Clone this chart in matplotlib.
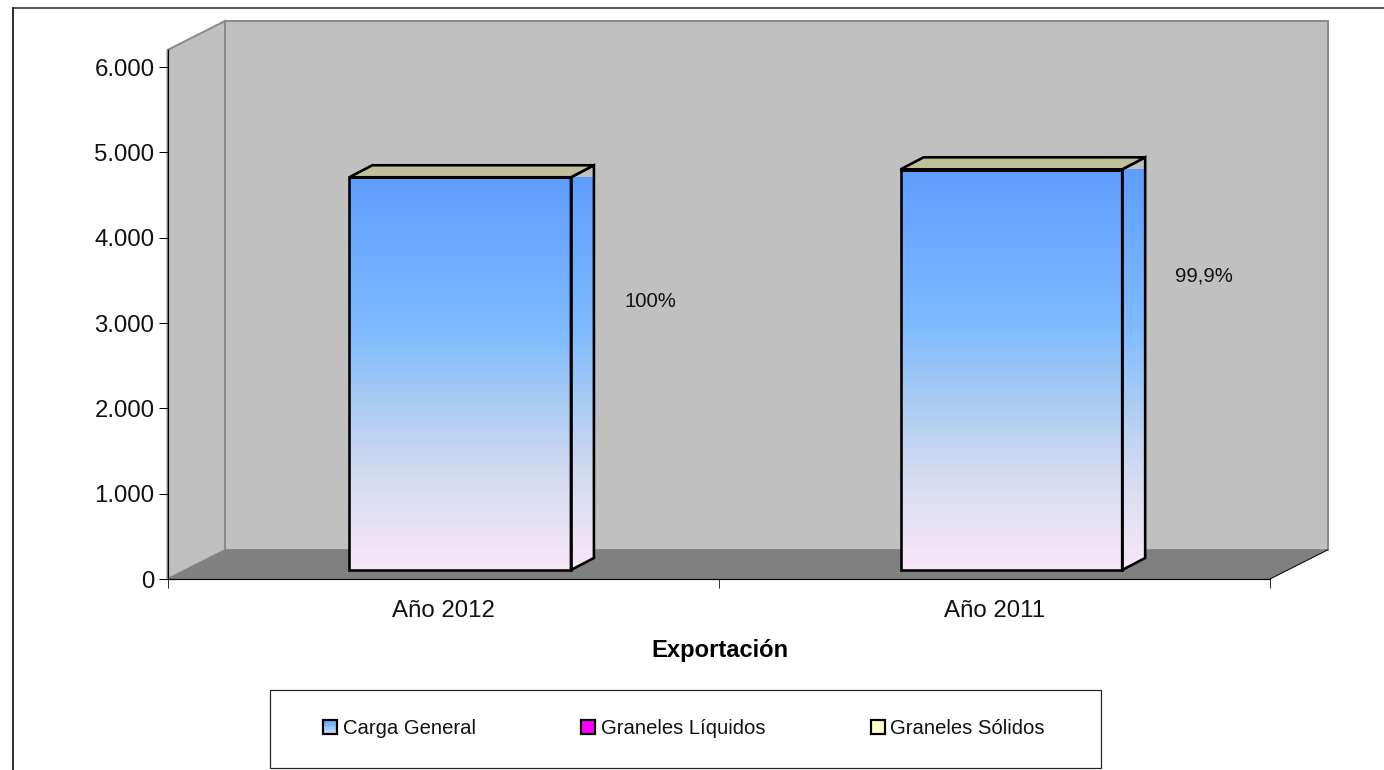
import matplotlib
matplotlib.use("Agg")
import matplotlib.pyplot as plt
import numpy as np
from matplotlib.colors import LinearSegmentedColormap
from matplotlib.lines import Line2D
from matplotlib.patches import Polygon, Rectangle, Patch
from matplotlib.transforms import Affine2D, IdentityTransform
from matplotlib.legend_handler import HandlerBase

categories = ["Año 2012", "Año 2011"]
carga_general = [4603, 4691]
graneles_liquidos = [0, 0]
graneles_solidos = [0, 5]
percent_labels = ["100%", "99,9%"]
y_ticks = [0, 1000, 2000, 3000, 4000, 5000, 6000]
y_tick_labels = ["0", "1.000", "2.000", "3.000", "4.000", "5.000", "6.000"]
series_names = ["Carga General", "Graneles Líquidos", "Graneles Sólidos"]

plt.rcParams["font.family"] = "Liberation Sans"
W, H = 1384, 770
PX = 72 / 100
fig = plt.figure(figsize=(W / 100, H / 100), dpi=100, facecolor="white")
ax = fig.add_axes([167.5 / W, (H - 579) / H, (1270 - 167.5) / W, (579 - 50) / H])
ax.set_xlim(-0.5, 1.5)
ax.set_ylim(0, 6200)
ax.patch.set_visible(False)

grad = LinearSegmentedColormap.from_list(
    "g", [(0, "#F9E8F8"), (0.23, "#D6DCF1"), (0.43, "#A8CBF4"), (0.61, "#7FBAFF"),
          (0.84, "#6CAAFF"), (1, "#5F9DFF")])
ramp = np.linspace(1, 0, 256)[:, None]


def P(x, y, dx=0, dy=0):
    a = ax.transData.transform((x, y))
    return (a[0] + dx, a[1] + dy)


def T(dx, dy):
    return ax.transData + Affine2D().translate(dx, dy)


WALL, FLOOR, EDGE = "#C0C0C0", "#808080", "#8A8A8A"
DX, DY = 57.5, 29
top = 6200
idt = IdentityTransform()
fig.add_artist(Polygon([P(-.5, 0, DX, DY), P(1.5, 0, DX, DY), P(1.5, top, DX, DY), P(-.5, top, DX, DY)],
                       transform=idt, fc=WALL, ec=EDGE, lw=2 * PX, zorder=-5))
fig.add_artist(Polygon([P(-.5, 0), P(-.5, 0, DX, DY), P(-.5, top, DX, DY), P(-.5, top)],
                       transform=idt, fc=WALL, ec=EDGE, lw=2 * PX, zorder=-4))
fig.add_artist(Polygon([P(-.5, 0), P(1.5, 0), P(1.5, 0, DX, DY), P(-.5, 0, DX, DY)],
                       transform=idt, fc=FLOOR, ec="none", zorder=-3))
fig.add_artist(Line2D(*zip(P(1.5, 0), P(1.5, 0, DX, DY)), transform=idt, color="black", lw=1 * PX, zorder=-2))

BW = 0.402
OX, OY = 17, 9
SX, SY = 23, 12
LW = 2.6 * PX
totals = [a + b + c for a, b, c in zip(carga_general, graneles_liquidos, graneles_solidos)]
xs = np.arange(len(categories))
tr = T(OX, OY)
for x, v in zip(xs, totals):
    x0, x1 = x - BW / 2, x + BW / 2
    ax.imshow(ramp, cmap=grad, vmin=0, vmax=1, extent=(x0, x1, 0, v), aspect="auto",
              transform=tr, clip_on=False, zorder=2)
    # side face
    side = [P(x1, 0, OX, OY), P(x1, 0, OX + SX, OY + SY), P(x1, v, OX + SX, OY + SY), P(x1, v, OX, OY)]
    im = ax.imshow(ramp, cmap=grad, vmin=0, vmax=1, aspect="auto", zorder=2,
                   extent=(x1, x1 + SX / 551, 0, v + SY / 85.32), transform=tr)
    clip = Polygon(side, transform=idt)
    im.set_clip_path(clip)
    ax.add_patch(Polygon(side, transform=idt, fc="none", ec="black", lw=LW, joinstyle="miter", clip_on=False, zorder=3))
    # top face
    ax.add_patch(Polygon([P(x0, v, OX, OY), P(x1, v, OX, OY), P(x1, v, OX + SX, OY + SY), P(x0, v, OX + SX, OY + SY)],
                         transform=idt, fc="#BFBF9A", ec="black", lw=LW, joinstyle="miter", clip_on=False, zorder=3))

ax.bar(xs, carga_general, width=BW, bottom=0, transform=tr, fc="none", ec="black", lw=LW,
       clip_on=False, zorder=4, label=series_names[0])
ax.bar(xs, graneles_solidos, width=BW, bottom=carga_general, transform=tr, fc="#FFFFCC", ec="black", lw=LW,
       clip_on=False, zorder=4, label=series_names[2])

ax.text(0.3766, 3258, percent_labels[0], fontsize=20.3 * PX, ha="center", va="center", color="#111111", zorder=6)
ax.text(1.3802, 3551, percent_labels[1], fontsize=20.3 * PX, ha="center", va="center", color="#111111", zorder=6)

ax.set_xlim(-0.5, 1.5)
ax.set_ylim(0, 6200)
ax.set_yticks(y_ticks, y_tick_labels)
ax.set_xticks([-0.5, 0.5, 1.5], ["", "", ""])
ax.set_xticks(xs, categories, minor=True)
ax.tick_params(axis="y", length=9 * PX, width=1 * PX, pad=4 * PX, labelsize=24 * PX, color="black")
ax.tick_params(axis="x", which="major", length=9 * PX, width=1 * PX, color="#333333")
ax.tick_params(axis="x", which="minor", length=0, pad=21 * PX, labelsize=24 * PX)
for lab in ax.get_xminorticklabels():
    lab.set_color("#111111")
for lab in ax.get_yticklabels():
    lab.set_color("#111111")
for s in ["top", "right"]:
    ax.spines[s].set_visible(False)
for s in ["left", "bottom"]:
    ax.spines[s].set_linewidth(1.2 * PX)
    ax.spines[s].set_color("black")
    ax.spines[s].set_zorder(5)

fig.text(719.5 / W, (H - 650) / H, "Exportación", fontsize=23.8 * PX, fontweight="bold",
         ha="center", va="center", color="black")

# outer frame
fig.add_artist(Line2D([12.5, 12.5], [0, H - 7.5], transform=idt, color="black", lw=1.6 * PX))
fig.add_artist(Line2D([12.5, W], [H - 7.5, H - 7.5], transform=idt, color="#333333", lw=1.6 * PX))

# legend frame
fig.add_artist(Rectangle((269.5, H - 767.5), 831.5, 77.5, transform=idt, fc="white", ec="#222222", lw=1.2 * PX))


class GradHandler(HandlerBase):
    def create_artists(self, legend, orig, xd, yd, w, h, fs, trans):
        n = 10
        arts = []
        for i in range(n):
            arts.append(Rectangle((xd * -1, -yd + h * i / n), w, h / n + 0.3, transform=trans,
                                  fc=grad(0.15 + 0.75 * (i + .5) / n), ec="none"))
        arts.append(Rectangle((-xd, -yd), w, h, transform=trans, fc="none", ec="black", lw=2.2 * PX))
        return arts


handles = [Patch(fc="#A8CBF4", ec="black", lw=2.2 * PX),
           Patch(fc="#FF00FF", ec="black", lw=2.2 * PX),
           Patch(fc="#FFFFCC", ec="black", lw=2.2 * PX)]
fs = 20.3 * PX
leg = fig.legend(handles, series_names, ncol=3, loc="center left", frameon=False, fontsize=fs,
                 bbox_to_anchor=(323 / W, (H - 729) / H), borderpad=0, borderaxespad=0,
                 handlelength=14 / 20.3, handleheight=14 / 20.3, handletextpad=6 / 20.3,
                 columnspacing=105 / 20.3, labelcolor="#111111",
                 handler_map={handles[0]: GradHandler()})
leg.set_zorder(10)

fig.savefig("out.png", dpi=100, facecolor="white")
